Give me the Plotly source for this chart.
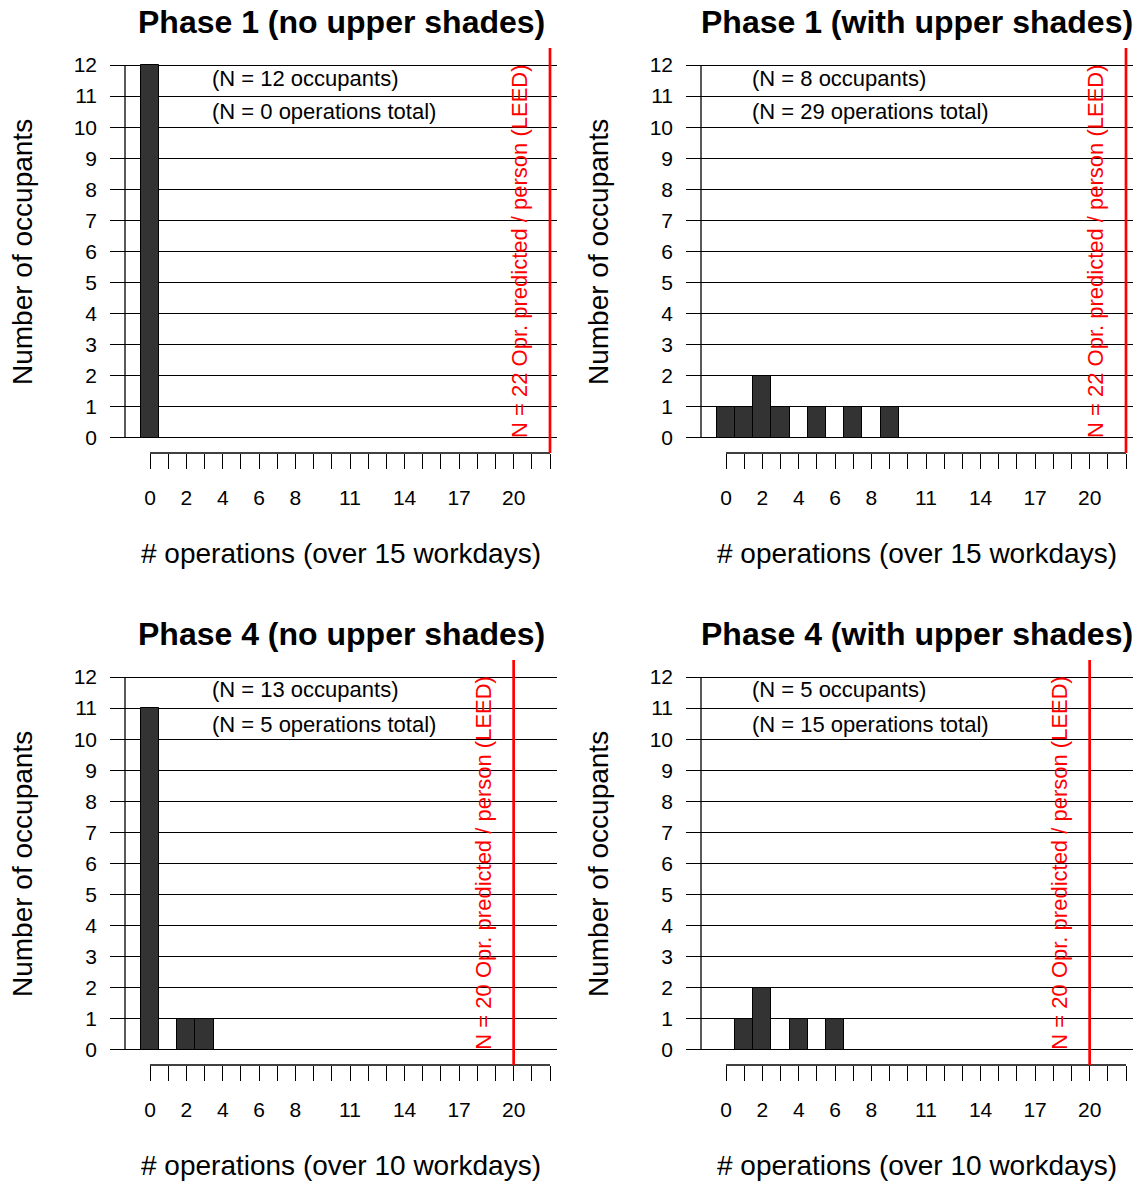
import plotly.graph_objects as go

# ---------------- data ----------------
titles = ["Phase 1 (no upper shades)", "Phase 1 (with upper shades)",
          "Phase 4 (no upper shades)", "Phase 4 (with upper shades)"]

ops_p1_no = [0]
cnt_p1_no = [12]
ops_p1_with = [0, 1, 2, 3, 5, 7, 9]
cnt_p1_with = [1, 1, 2, 1, 1, 1, 1]
ops_p4_no = [0, 2, 3]
cnt_p4_no = [11, 1, 1]
ops_p4_with = [0, 1, 2, 4, 6]
cnt_p4_with = [0, 1, 2, 1, 1]

n_occupants = [12, 8, 13, 5]
n_operations = [0, 29, 5, 15]
leed_predicted = [22, 22, 20, 20]
workdays = [15, 15, 10, 10]

x_tick_vals = list(range(0, 23))
x_tick_labels = ["0", "", "2", "", "4", "", "6", "", "8", "", "", "11", "", "",
                 "14", "", "", "17", "", "", "20", "", ""]
y_tick_vals = list(range(0, 13))
y_tick_labels = [str(v) for v in y_tick_vals]

# ---------------- layout helpers ----------------
W, H = 1136, 1181
FONT = "Liberation Sans, Arial, Helvetica, sans-serif"
ops_all = [ops_p1_no, ops_p1_with, ops_p4_no, ops_p4_with]
cnt_all = [cnt_p1_no, cnt_p1_with, cnt_p4_no, cnt_p4_with]
dxs = [0, 576, 0, 576]
dys = [0, 0, 612, 612]
X_RANGE = [-2.2, 22.385]
Y_RANGE = [-0.483, 12.547]
YAXIS_LINE_X = -1.375


def px(p):
    return p / W


def py(p):
    return 1 - p / H


fig = go.Figure()
shapes = []
annotations = []

for i in range(4):
    dx, dy = dxs[i], dys[i]
    sfx = "" if i == 0 else str(i + 1)
    xa, ya = "x" + sfx, "y" + sfx

    fig.add_trace(go.Bar(
        x=ops_all[i], y=cnt_all[i], width=1,
        marker=dict(color="#333333", line=dict(color="black", width=1)),
        xaxis=xa, yaxis=ya, showlegend=False, hoverinfo="x+y",
    ))

    fig.update_layout(**{
        "xaxis" + sfx: dict(
            domain=[px(110 + dx), min(1.0, px(557 + dx))], range=X_RANGE, anchor=ya,
            tickmode="array", tickvals=x_tick_vals, ticktext=x_tick_labels,
            ticks="outside", ticklen=15, tickwidth=1.3, tickcolor="black",
            showline=False, showgrid=False, zeroline=False,
            ticklabelstandoff=11,
            tickfont=dict(family=FONT, size=21, color="black"),
            fixedrange=True,
        ),
        "yaxis" + sfx: dict(
            domain=[py(453 + dy), py(48 + dy)], range=Y_RANGE, anchor=xa,
            tickmode="array", tickvals=y_tick_vals, ticktext=y_tick_labels,
            ticks="", showline=False, zeroline=False,
            showgrid=True, gridcolor="black", gridwidth=1.3,
            ticklabelstandoff=12,
            tickfont=dict(family=FONT, size=21, color="black"),
            fixedrange=True,
        ),
    })

    # x axis line spanning the tick range
    shapes.append(dict(type="line", xref=xa, yref=ya + " domain",
                       x0=x_tick_vals[0], x1=x_tick_vals[-1], y0=0, y1=0,
                       line=dict(color="black", width=1.3), layer="above"))
    # y axis line
    shapes.append(dict(type="line", xref=xa, yref=ya,
                       x0=YAXIS_LINE_X, x1=YAXIS_LINE_X,
                       y0=y_tick_vals[0], y1=y_tick_vals[-1],
                       line=dict(color="black", width=1.3), layer="above"))
    # red LEED line
    shapes.append(dict(type="line", xref=xa, yref=ya + " domain",
                       x0=leed_predicted[i], x1=leed_predicted[i], y0=0, y1=1,
                       line=dict(color="red", width=2.7), layer="above"))

    annotations.append(dict(
        text=f"N = {leed_predicted[i]} Opr. predicted / person (LEED)",
        x=leed_predicted[i], y=0, xref=xa, yref=ya, xshift=-30, yshift=-2,
        xanchor="center", yanchor="bottom", textangle=-90, showarrow=False,
        font=dict(family=FONT, size=22, color="red")))

    text_left = 210 if i % 2 == 0 else 174
    annotations.append(dict(
        text=f"(N = {n_occupants[i]} occupants)",
        x=px(text_left + dx), y=py(78 + dy), xref="paper", yref="paper",
        xanchor="left", yanchor="middle", showarrow=False,
        font=dict(family=FONT, size=22, color="black")))
    annotations.append(dict(
        text=f"(N = {n_operations[i]} operations total)",
        x=px(text_left + dx), y=py(112 + dy), xref="paper", yref="paper",
        xanchor="left", yanchor="middle", showarrow=False,
        font=dict(family=FONT, size=22, color="black")))

    # panel title
    annotations.append(dict(
        text=f"<b>{titles[i]}</b>",
        x=px(341 + dx), y=py(22 + dy), xref="paper", yref="paper",
        xanchor="center", yanchor="middle", showarrow=False,
        font=dict(family=FONT, size=32, color="black")))
    # x title
    annotations.append(dict(
        text=f"# operations (over {workdays[i]} workdays)",
        x=px(341 + dx), y=py(553 + dy), xref="paper", yref="paper",
        xanchor="center", yanchor="middle", showarrow=False,
        font=dict(family=FONT, size=28, color="black")))
    # y title
    annotations.append(dict(
        text="Number of occupants",
        x=px(22 + dx), y=py(252 + dy), xref="paper", yref="paper",
        xanchor="center", yanchor="middle", textangle=-90, showarrow=False,
        font=dict(family=FONT, size=28, color="black")))

fig.update_layout(
    width=W, height=H, margin=dict(l=0, r=0, t=0, b=0),
    paper_bgcolor="white", plot_bgcolor="white",
    shapes=shapes, annotations=annotations, bargap=0,
    font=dict(family=FONT, color="black"),
)

fig.write_html("out.html",
               config={"displayModeBar": False},
               post_script="document.body.style.margin='0';"
                           "document.body.style.overflow='hidden';")
